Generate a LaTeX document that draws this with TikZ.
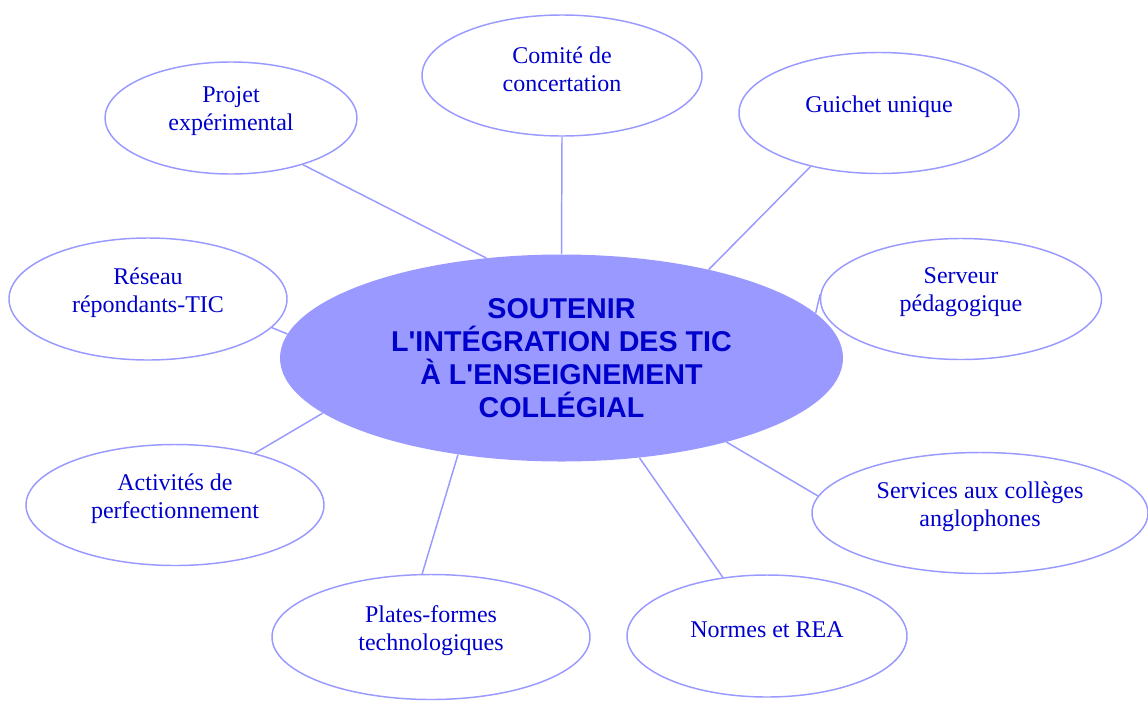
\documentclass[tikz,border=0pt]{standalone}
\usepackage{fontspec}
\setmainfont{Liberation Serif}
\newfontfamily\centerfont{Liberation Sans}
\usetikzlibrary{shapes.geometric}
\definecolor{lav}{RGB}{153,153,255}
\definecolor{txtblue}{RGB}{0,0,204}
\tikzset{
  outer/.style={ellipse, draw=lav, line width=1.1pt, fill=white, inner sep=0pt},
  lbl/.style={align=center, text=txtblue, font=\fontsize{18}{21}\selectfont, yshift=5pt, inner sep=0pt},
  hub/.style={ellipse, fill=lav, draw=none, inner sep=0pt, align=center, text=txtblue,
     font=\centerfont\bfseries\fontsize{21.5}{24.6}\selectfont},
  link/.style={draw=lav, line width=1.1pt}
}
\begin{document}
\begin{tikzpicture}[x=0.75pt,y=-0.75pt]
\useasboundingbox (0,0) rectangle (1148,700);
% central node
\node[hub, minimum width=422.25pt, minimum height=155.25pt] (c) at (561.5,358)
  {SOUTENIR\\L'INTÉGRATION DES TIC\\À L'ENSEIGNEMENT\\COLLÉGIAL};
% outer nodes
\node[outer, minimum width=189pt, minimum height=84pt, label={[lbl]center:Projet\\expérimental}] (proj) at (231,118) {};
\node[outer, minimum width=210pt, minimum height=90.75pt, label={[lbl]center:Comité de\\concertation}] (comite) at (562,75.5) {};
\node[outer, minimum width=210pt, minimum height=90.75pt, label={[lbl]center:Guichet unique}] (guichet) at (879,113) {};
\node[outer, minimum width=210.75pt, minimum height=90.75pt, label={[lbl]center:Serveur\\pédagogique}] (serveur) at (961,299) {};
\node[outer, minimum width=252pt, minimum height=90.75pt, label={[lbl]center:Services aux collèges\\anglophones}] (services) at (980,513) {};
\node[outer, minimum width=210pt, minimum height=91.5pt, label={[lbl]center:Normes et REA}] (normes) at (767,636) {};
\node[outer, minimum width=238.5pt, minimum height=93.75pt, label={[lbl]center:Plates-formes\\technologiques}] (plates) at (431,637) {};
\node[outer, minimum width=223.5pt, minimum height=90.75pt, label={[lbl]center:Activités de\\perfectionnement}] (activites) at (175,505) {};
\node[outer, minimum width=208.5pt, minimum height=91.5pt, label={[lbl]center:Réseau\\répondants-TIC}] (reseau) at (148,299) {};
% connectors
\draw[link] (proj.-33.3) -- (c.127.2);
\draw[link] (comite.-90) -- (c.90);
\draw[link] (guichet.218.2) -- (c.31.05);
\draw[link] (serveur.178.4) -- (c.10.6);
\draw[link] (services.174.4) -- (c.-27.76);
\draw[link] (normes.127.9) -- (c.-52.6);
\draw[link] (plates.98.1) -- (c.223.3);
\draw[link] (activites.33.2) -- (c.193.2);
\draw[link] (reseau.-13.1) -- (c.175.2);
\end{tikzpicture}
\end{document}
